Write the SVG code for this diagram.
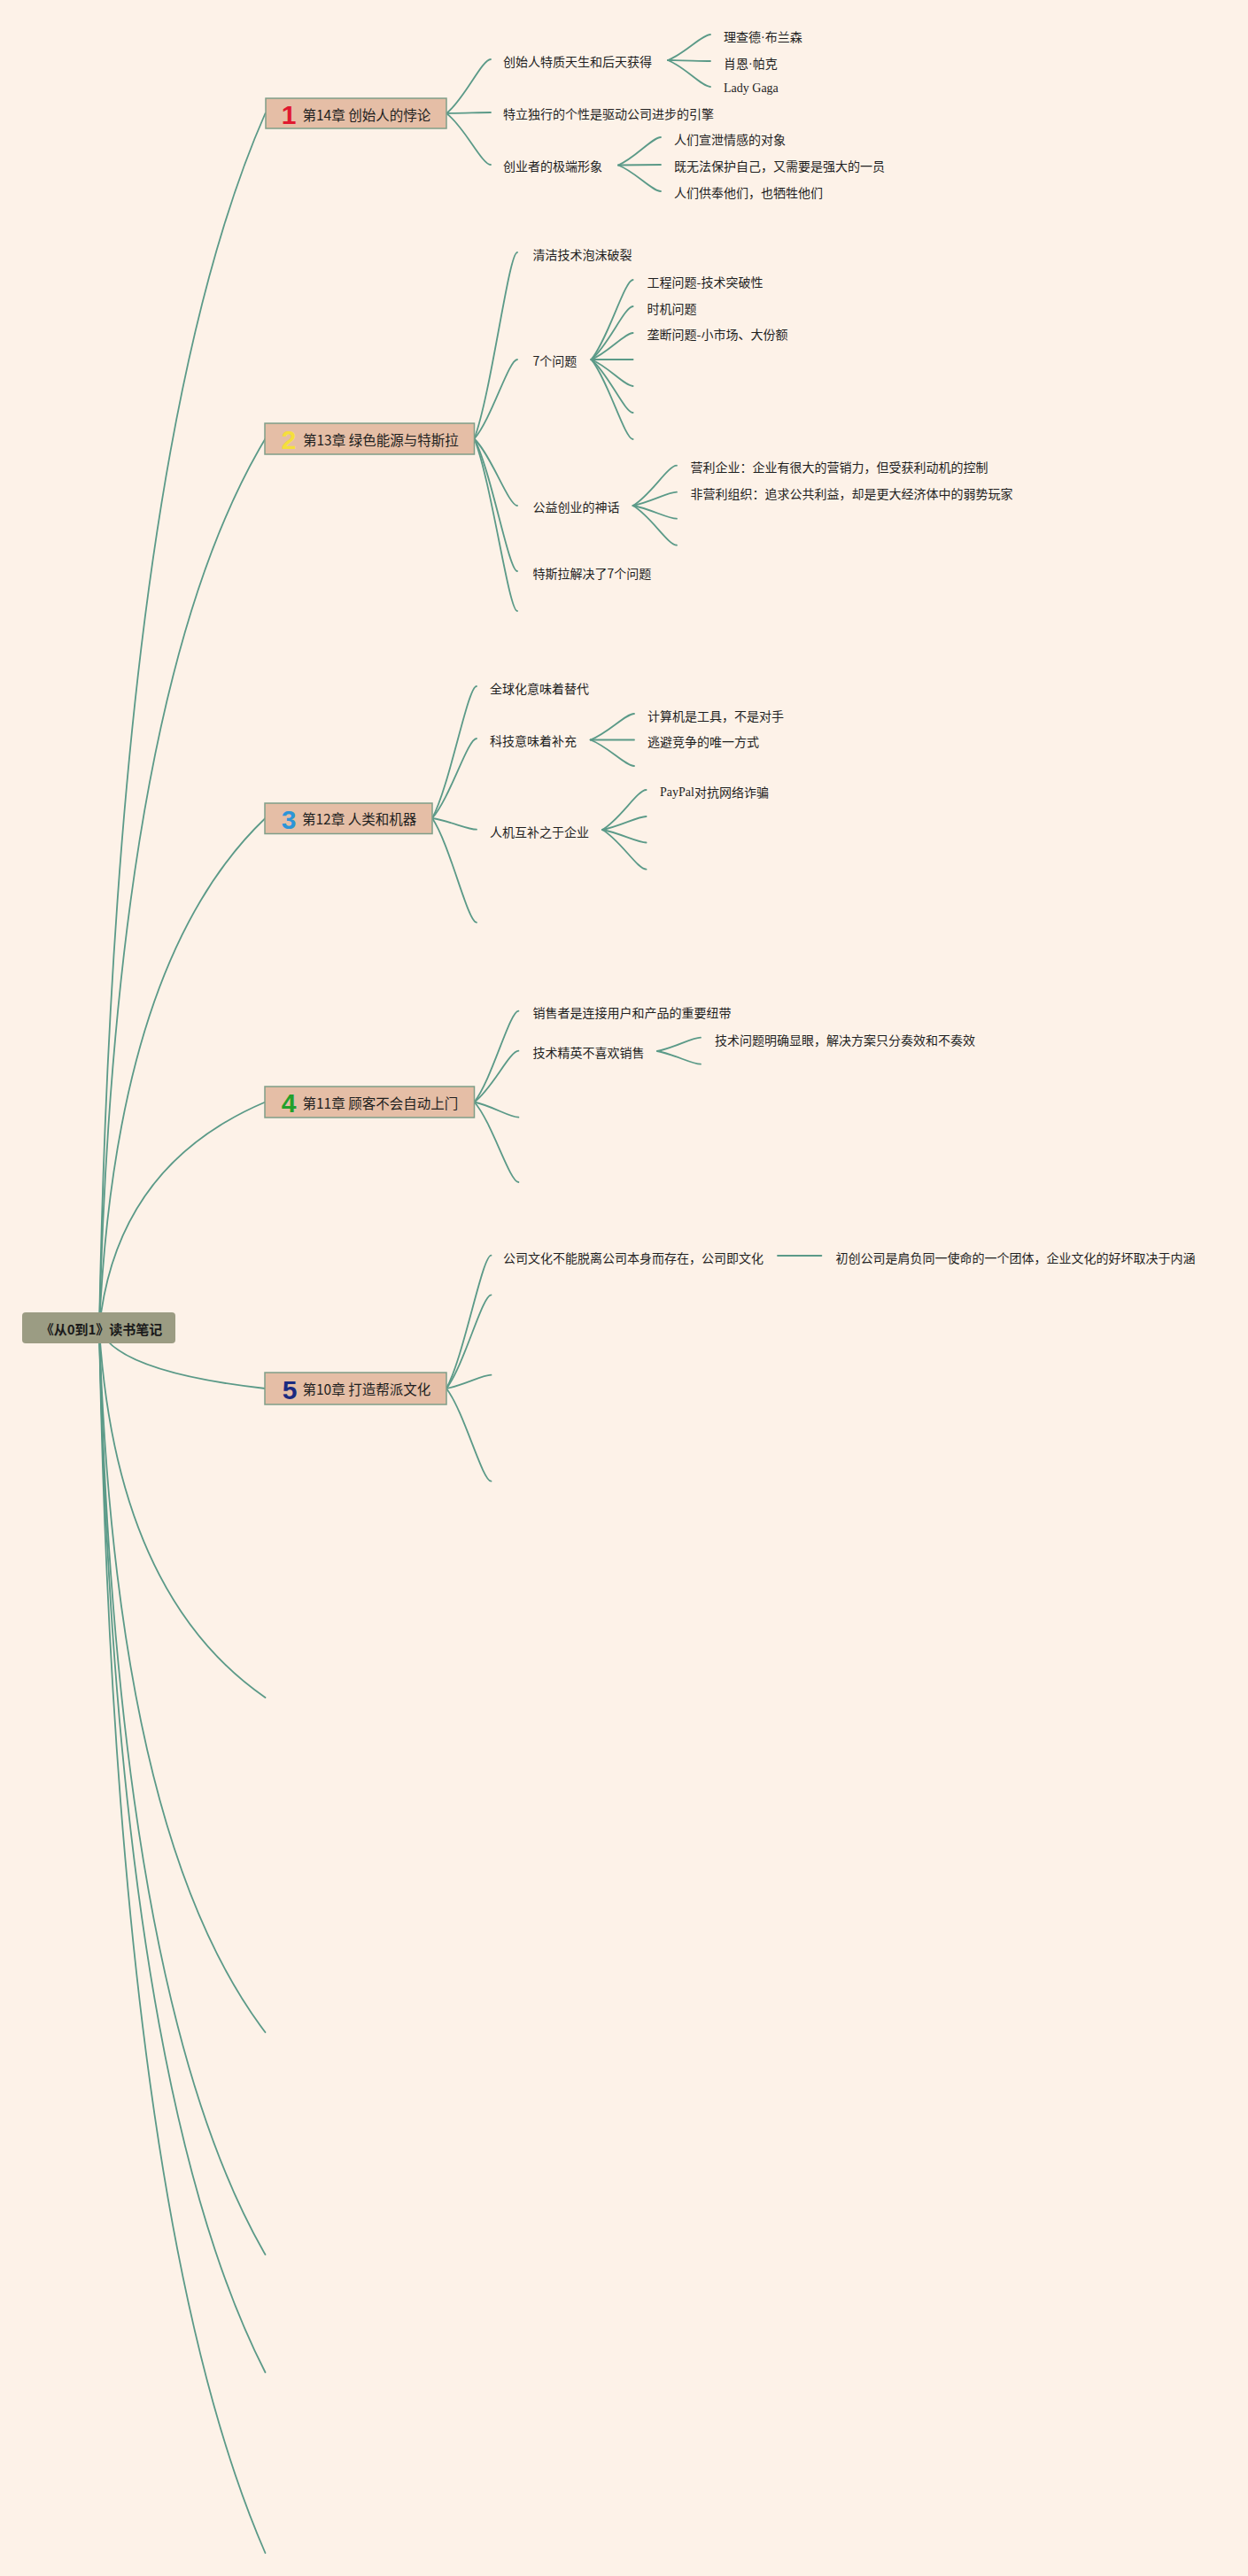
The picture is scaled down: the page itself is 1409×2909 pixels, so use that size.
<svg xmlns="http://www.w3.org/2000/svg" width="1409" height="2909" viewBox="0 0 1409 2909">
<style>
.bg{fill:#fdf2e8}
.e{fill:none;stroke:#5b9a88;stroke-width:1.8;stroke-linecap:round}
.ch{fill:#e5bea6;stroke:#7f9e88;stroke-width:1.5}
.root{fill:#9b9c83}
.t{font-family:"Noto Sans CJK SC","Noto Sans",sans-serif;font-size:14px;fill:#1e1e1e;dominant-baseline:central}
.ct{font-family:"Noto Sans CJK SC","Noto Sans",sans-serif;font-size:15.5px;fill:#1e1e1e;dominant-baseline:central}
.rt{font-family:"Noto Sans CJK SC","Noto Sans",sans-serif;font-size:15px;font-weight:bold;fill:#1a1a1a;dominant-baseline:central}
.num{font-family:"Liberation Sans","DejaVu Sans",sans-serif;font-size:30px;font-weight:bold;dominant-baseline:central;text-anchor:middle}
.lat{font-family:"Liberation Serif",serif}
.dot{font-family:"Liberation Sans",sans-serif}
</style>
<rect class="bg" x="0" y="0" width="1409" height="2909"/>
<g id="connectors">
<path class="e" d="M112 1500 Q130.75 512.2 299.5 128"/>
<path class="e" d="M112 1500 Q130.75 776.8 299.5 495.5"/>
<path class="e" d="M112 1500 Q130.75 1085.3 299.5 924"/>
<path class="e" d="M112 1500 Q130.75 1316 299.5 1244.5"/>
<path class="e" d="M112 1500 Q130.75 1549 299.5 1568"/>
<path class="e" d="M112 1500 Q130.75 1800.2 299.5 1917"/>
<path class="e" d="M112 1500 Q130.75 2072.4 299.5 2295"/>
<path class="e" d="M112 1500 Q130.75 2253.1 299.5 2546"/>
<path class="e" d="M112 1500 Q130.75 2348.9 299.5 2679"/>
<path class="e" d="M112 1500 Q130.75 2495.8 299.5 2883"/>
<path class="e" d="M504 128 C524 112.75 544 67 554 67"/>
<path class="e" d="M504 128 C524 127.75 544 127 554 127"/>
<path class="e" d="M504 128 C524 142.5 544 186 554 186"/>
<path class="e" d="M754 68 C773.2 60.75 792.4 39 802 39"/>
<path class="e" d="M754 68 C773.2 68.25 792.4 69 802 69"/>
<path class="e" d="M754 68 C773.2 75.5 792.4 98 802 98"/>
<path class="e" d="M698 186.5 C717.2 178.6 736.4 155 746 155"/>
<path class="e" d="M698 186.5 C717.2 186.4 736.4 186 746 186"/>
<path class="e" d="M698 186.5 C717.2 193.9 736.4 216 746 216"/>
<path class="e" d="M535.5 495.5 C554.9 442.9 574.3 285 584 285"/>
<path class="e" d="M535.5 495.5 C554.9 473.1 574.3 406 584 406"/>
<path class="e" d="M535.5 495.5 C554.9 514.4 574.3 571 584 571"/>
<path class="e" d="M535.5 495.5 C554.9 532.9 574.3 645 584 645"/>
<path class="e" d="M535.5 495.5 C554.9 544.1 574.3 690 584 690"/>
<path class="e" d="M667.5 406 C686.3 383.5 705.2 316 714.6 316"/>
<path class="e" d="M667.5 406 C686.3 391 705.2 346 714.6 346"/>
<path class="e" d="M667.5 406 C686.3 398.5 705.2 376 714.6 376"/>
<path class="e" d="M667.5 406 C686.3 406 705.2 406 714.6 406"/>
<path class="e" d="M667.5 406 C686.3 413.5 705.2 436 714.6 436"/>
<path class="e" d="M667.5 406 C686.3 421 705.2 466 714.6 466"/>
<path class="e" d="M667.5 406 C686.3 428.5 705.2 496 714.6 496"/>
<path class="e" d="M714.6 571 C734.4 559.7 754.1 525.7 764 525.7"/>
<path class="e" d="M714.6 571 C734.4 567.2 754.1 555.7 764 555.7"/>
<path class="e" d="M714.6 571 C734.4 574.7 754.1 585.7 764 585.7"/>
<path class="e" d="M714.6 571 C734.4 582.2 754.1 615.7 764 615.7"/>
<path class="e" d="M488 924 C508 886.75 528 775 538 775"/>
<path class="e" d="M488 924 C508 901.5 528 834 538 834"/>
<path class="e" d="M488 924 C508 927.2 528 936.7 538 936.7"/>
<path class="e" d="M488 924 C508 953.4 528 1041.7 538 1041.7"/>
<path class="e" d="M666.6 835.5 C686.4 828.1 706.1 806 716 806"/>
<path class="e" d="M666.6 835.5 C686.4 835.5 706.1 835.5 716 835.5"/>
<path class="e" d="M666.6 835.5 C686.4 842.9 706.1 865 716 865"/>
<path class="e" d="M680 937 C699.8 925.75 719.7 892 729.6 892"/>
<path class="e" d="M680 937 C699.8 933.25 719.7 922 729.6 922"/>
<path class="e" d="M680 937 C699.8 940.6 719.7 951.5 729.6 951.5"/>
<path class="e" d="M680 937 C699.8 948.2 719.7 981.7 729.6 981.7"/>
<path class="e" d="M535.5 1244.5 C555.5 1218.8 575.4 1141.7 585.4 1141.7"/>
<path class="e" d="M535.5 1244.5 C555.5 1230 575.4 1186.7 585.4 1186.7"/>
<path class="e" d="M535.5 1244.5 C555.5 1248.8 575.4 1261.7 585.4 1261.7"/>
<path class="e" d="M535.5 1244.5 C555.5 1267.1 575.4 1335 585.4 1335"/>
<path class="e" d="M742 1187 C761.6 1183.2 781.2 1171.7 791 1171.7"/>
<path class="e" d="M742 1187 C761.6 1190.7 781.2 1201.7 791 1201.7"/>
<path class="e" d="M504 1568 C524.2 1530.4 544.4 1417.7 554.5 1417.7"/>
<path class="e" d="M504 1568 C524.2 1541.6 544.4 1462.3 554.5 1462.3"/>
<path class="e" d="M504 1568 C524.2 1564.2 544.4 1552.7 554.5 1552.7"/>
<path class="e" d="M504 1568 C524.2 1594.2 544.4 1672.7 554.5 1672.7"/>
<path class="e" d="M878 1418 L927.4 1418"/>
</g>
<g id="root">
<rect class="root" x="25" y="1482" width="173" height="35" rx="4"/>
<text class="rt" x="114.5" y="1500" text-anchor="middle">《从0到1》读书笔记</text>
</g>
<g id="ch14">
<rect class="ch" x="300" y="111" width="204" height="34"/>
<text class="num" x="326" y="129" fill="#e0192f">1</text>
<text class="ct" x="341.5" y="128.5">第14章 创始人的悖论</text>
</g>
<g id="ch14-1"><text class="t" x="568" y="68.5">创始人特质天生和后天获得</text></g>
<g id="ch14-1-1"><text class="t" x="817" y="41">理查德<tspan class="dot">·</tspan>布兰森</text></g>
<g id="ch14-1-2"><text class="t" x="817" y="71">肖恩<tspan class="dot">·</tspan>帕克</text></g>
<g id="ch14-1-3"><text class="t lat" x="817" y="99.5">Lady Gaga</text></g>
<g id="ch14-2"><text class="t" x="568" y="128">特立独行的个性是驱动公司进步的引擎</text></g>
<g id="ch14-3"><text class="t" x="568" y="187">创业者的极端形象</text></g>
<g id="ch14-3-1"><text class="t" x="761" y="157">人们宣泄情感的对象</text></g>
<g id="ch14-3-2"><text class="t" x="761" y="187">既无法保护自己，又需要是强大的一员</text></g>
<g id="ch14-3-3"><text class="t" x="761" y="217">人们供奉他们，也牺牲他们</text></g>
<g id="ch13">
<rect class="ch" x="299" y="478" width="236.5" height="35"/>
<text class="num" x="326" y="496.5" fill="#f5df3c">2</text>
<text class="ct" x="342" y="495.5">第13章 绿色能源与特斯拉</text>
</g>
<g id="ch13-1"><text class="t" x="601.5" y="287">清洁技术泡沫破裂</text></g>
<g id="ch13-2"><text class="t" x="601.5" y="407">7个问题</text></g>
<g id="ch13-2-1"><text class="t" x="730.6" y="318">工程问题-技术突破性</text></g>
<g id="ch13-2-2"><text class="t" x="730.6" y="347.5">时机问题</text></g>
<g id="ch13-2-3"><text class="t" x="730.6" y="377">垄断问题-小市场、大份额</text></g>
<g id="ch13-3"><text class="t" x="601.5" y="572">公益创业的神话</text></g>
<g id="ch13-3-1"><text class="t" x="779.4" y="527">营利企业：企业有很大的营销力，但受获利动机的控制</text></g>
<g id="ch13-3-2"><text class="t" x="779.4" y="557">非营利组织：追求公共利益，却是更大经济体中的弱势玩家</text></g>
<g id="ch13-4"><text class="t" x="601.5" y="647">特斯拉解决了7个问题</text></g>
<g id="ch12">
<rect class="ch" x="299" y="907" width="189" height="34.5"/>
<text class="num" x="326" y="925" fill="#2c95d8">3</text>
<text class="ct" x="341" y="924">第12章 人类和机器</text>
</g>
<g id="ch12-1"><text class="t" x="553" y="777">全球化意味着替代</text></g>
<g id="ch12-2"><text class="t" x="553" y="836">科技意味着补充</text></g>
<g id="ch12-2-1"><text class="t" x="731" y="807.5">计算机是工具，不是对手</text></g>
<g id="ch12-2-2"><text class="t" x="731" y="837">逃避竞争的唯一方式</text></g>
<g id="ch12-3"><text class="t" x="553" y="938.7">人机互补之于企业</text></g>
<g id="ch12-3-1"><text class="t" x="745" y="893.5"><tspan class="lat">PayPal</tspan>对抗网络诈骗</text></g>
<g id="ch11">
<rect class="ch" x="299" y="1227" width="236.5" height="35"/>
<text class="num" x="326" y="1245.5" fill="#23a02c">4</text>
<text class="ct" x="341.5" y="1244.5">第11章 顾客不会自动上门</text>
</g>
<g id="ch11-1"><text class="t" x="601.5" y="1143.3">销售者是连接用户和产品的重要纽带</text></g>
<g id="ch11-2"><text class="t" x="601.5" y="1188.3">技术精英不喜欢销售</text></g>
<g id="ch11-2-1"><text class="t" x="807" y="1174">技术问题明确显眼，解决方案只分奏效和不奏效</text></g>
<g id="ch10">
<rect class="ch" x="299" y="1550" width="205" height="36"/>
<text class="num" x="327" y="1569" fill="#1b2a80">5</text>
<text class="ct" x="341.5" y="1568">第10章 打造帮派文化</text>
</g>
<g id="ch10-1"><text class="t" x="568" y="1420">公司文化不能脱离公司本身而存在，公司即文化</text></g>
<g id="ch10-1-1"><text class="t" x="943.6" y="1420">初创公司是肩负同一使命的一个团体，企业文化的好坏取决于内涵</text></g>
</svg>
